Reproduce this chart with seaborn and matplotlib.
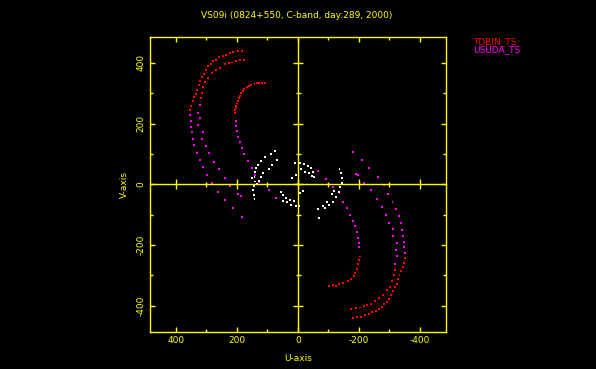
import numpy as np
import pandas as pd
import matplotlib
matplotlib.use("Agg")
import matplotlib.pyplot as plt
import seaborn as sns

# --- data (u, v in kilolambda-ish units) ---
# TDBIN_TS (red) points
red_u = [184, 197, 211, 223, 234, 246, 257, 268, 279, 284, 294, 300, 308, 313, 320, 325, 331, 333, 340, 344, 349, 353,
         177, 191, 204, 216, 227, 239, 254, 268, 282, 295, 303, 311, 315, 317,
         107, 117, 126, 134, 142, 152, 161, 168, 175, 181, 186, 190, 193, 196, 199, 202, 204, 206, 207,
         -180, -195, -209, -221, -233, -245, -256, -267, -278, -284, -293, -300, -307, -313, -319, -325, -330, -334, -339, -344, -348, -352,
         -175, -190, -203, -216, -228, -240, -253, -267, -281, -294, -303, -310, -315, -318,
         -102, -115, -124, -135, -150, -164, -175, -184, -189, -194, -198, -202, -204]
red_v = [438, 438, 435, 431, 427, 422, 418, 410, 405, 396, 388, 377, 364, 353, 340, 326, 311, 298, 287, 274, 259, 243,
         409, 409, 407, 401, 398, 396, 382, 376, 365, 349, 338, 321, 299, 283,
         334, 334, 332, 332, 330, 327, 323, 319, 313, 306, 299, 291, 283, 275, 266, 258, 250, 243, 236,
         -441, -438, -436, -431, -426, -421, -417, -411, -404, -396, -387, -377, -365, -352, -340, -327, -312, -299, -286, -274, -259, -244,
         -411, -409, -406, -402, -397, -395, -383, -375, -366, -349, -337, -320, -300, -282,
         -334, -331, -334, -329, -326, -319, -312, -302, -291, -280, -263, -251, -238]

# USUDA_TS (magenta) points
mag_u = [353, 351, 349, 347, 344, 339, 330, 322, 311, 298, 282, 262, 240, 213, 182,
         322, 328, 320, 326, 311, 313, 300, 290, 275, 260, 240, 222, 197, 186,
         204, 204, 200, 197, 191, 183, 175, 164, 151, 139, 126, 95, 71,
         -352, -350, -348, -346, -343, -338, -331, -321, -311, -297, -283, -262, -235, -211, -180,
         -320, -327, -321, -325, -312, -312, -299, -291, -276, -261, -240, -216, -199, -191,
         -202, -202, -199, -195, -189, -180, -172, -161, -148, -137, -115, -93, -65]
mag_v = [228, 209, 190, 171, 149, 129, 104, 80, 56, 30, 3, -24, -52, -79, -107,
         261, 234, 217, 195, 171, 149, 126, 102, 74, 49, 20, -6, -32, -38,
         209, 192, 175, 157, 138, 118, 99, 78, 55, 31, 7, -19, -46,
         -226, -208, -190, -170, -150, -128, -105, -80, -57, -31, -3, 24, 53, 80, 107,
         -262, -235, -218, -194, -172, -148, -127, -101, -75, -48, -20, 5, 30, 33,
         -208, -194, -178, -157, -139, -120, -101, -79, -57, -30, -8, 17, 45]

# short baselines (white)
wht_u = [74, 89, 106, 120, 131, 136, 140, 142, 139, 145, 148, 144, 142,
         69, 84, 95, 115, 120, 128, 133, 150,
         8, -6, -22, -33, -42, -49, -52, -11, -25, -36, -46, 18, 5,
         54, 49, 40, 27, 11, -3, 49, 36, 22, 5, -6, -16,
         -137, -142, -146, -146, -140, -134, -126, -115, -104, -88, -71, -120, -113, -95, -82, -66, 0]
wht_v = [109, 100, 91, 77, 63, 52, 39, 25, 9, -6, -19, -35, -49,
         80, 63, 49, 38, 25, 12, 0, 20,
         69, 69, 67, 61, 53, 41, 25, 49, 41, 36, 27, 20, 31,
         -24, -35, -46, -52, -54, -71, -54, -60, -68, -71, -30, -21,
         49, 36, 20, 3, -10, -24, -41, -57, -68, -79, -110, -21, -32, -57, -71, -81, 0]

major_ticks = [-400, -200, 0, 200, 400]
minor_ticks = [-300, -100, 100, 300]
title = "VS09i (0824+550, C-band, day:289, 2000)"
stations = ["TDBIN_TS", "USUDA_TS"]
colors = {"TDBIN_TS": "#ff0000", "USUDA_TS": "#ff00ff", "other": "#ffffff"}

df = pd.concat([
    pd.DataFrame({"u": red_u, "v": red_v, "station": "TDBIN_TS"}),
    pd.DataFrame({"u": mag_u, "v": mag_v, "station": "USUDA_TS"}),
    pd.DataFrame({"u": wht_u, "v": wht_v, "station": "other"}),
])

plt.rcParams["axes.unicode_minus"] = False
plt.rcParams["font.family"] = ["DejaVu Sans"]
yel = "#ffff00"
fs = 6.5

fig = plt.figure(figsize=(5.96, 3.69), dpi=100, facecolor="black")
pos = [150 / 596, 1 - 331.5 / 369, 295.5 / 596, 294.5 / 369]
ax = fig.add_axes(pos)
ax.set_facecolor("black")

sns.scatterplot(
    data=df, x="u", y="v", hue="station", palette=colors,
    marker="s", s=2, linewidth=0, legend=False, ax=ax
)

ax.set_xlim(485, -485)
ax.set_ylim(-485, 485)
ax.set_xticks(major_ticks)
ax.set_yticks(major_ticks)
ax.set_xticks(minor_ticks, minor=True)
ax.set_yticks(minor_ticks, minor=True)
for s in ax.spines.values():
    s.set_color(yel)
    s.set_linewidth(1.0)
ax.tick_params(which="both", direction="in", top=True, right=True,
               color=yel, labelcolor=yel, labelsize=fs, width=1.0)
ax.tick_params(which="major", length=3.6, pad=3)
ax.tick_params(which="minor", length=2.2)
ax.tick_params(axis="y", labelrotation=90)
for lab in ax.get_yticklabels():
    lab.set_va("center")
ax.set_xlabel("U-axis", color=yel, fontsize=fs, labelpad=7)
ax.set_ylabel("V-axis", color=yel, fontsize=fs, labelpad=6)

# centre cross with ticks
ax2 = fig.add_axes(pos, facecolor="none")
ax2.set_xlim(485, -485)
ax2.set_ylim(-485, 485)
ax2.spines["left"].set_position(("data", 0))
ax2.spines["bottom"].set_position(("data", 0))
ax2.spines["top"].set_visible(False)
ax2.spines["right"].set_visible(False)
for k in ["left", "bottom"]:
    ax2.spines[k].set_color(yel)
    ax2.spines[k].set_linewidth(1.0)
ax2.set_xticks(major_ticks)
ax2.set_yticks(major_ticks)
ax2.set_xticks(minor_ticks, minor=True)
ax2.set_yticks(minor_ticks, minor=True)
ax2.tick_params(which="both", direction="inout", color=yel, width=1.0,
                labelleft=False, labelbottom=False)
ax2.tick_params(which="major", length=6.5)
ax2.tick_params(which="minor", length=3.6)

fig.text(297 / 596, 1 - 16 / 369, title, color=yel, fontsize=fs, ha="center", va="center")
fig.text(473 / 596, 1 - 42 / 369, stations[0], color=colors[stations[0]], fontsize=fs, ha="left", va="center")
fig.text(473 / 596, 1 - 50 / 369, stations[1], color=colors[stations[1]], fontsize=fs, ha="left", va="center")

fig.savefig("out.png", dpi=100, facecolor="black")
